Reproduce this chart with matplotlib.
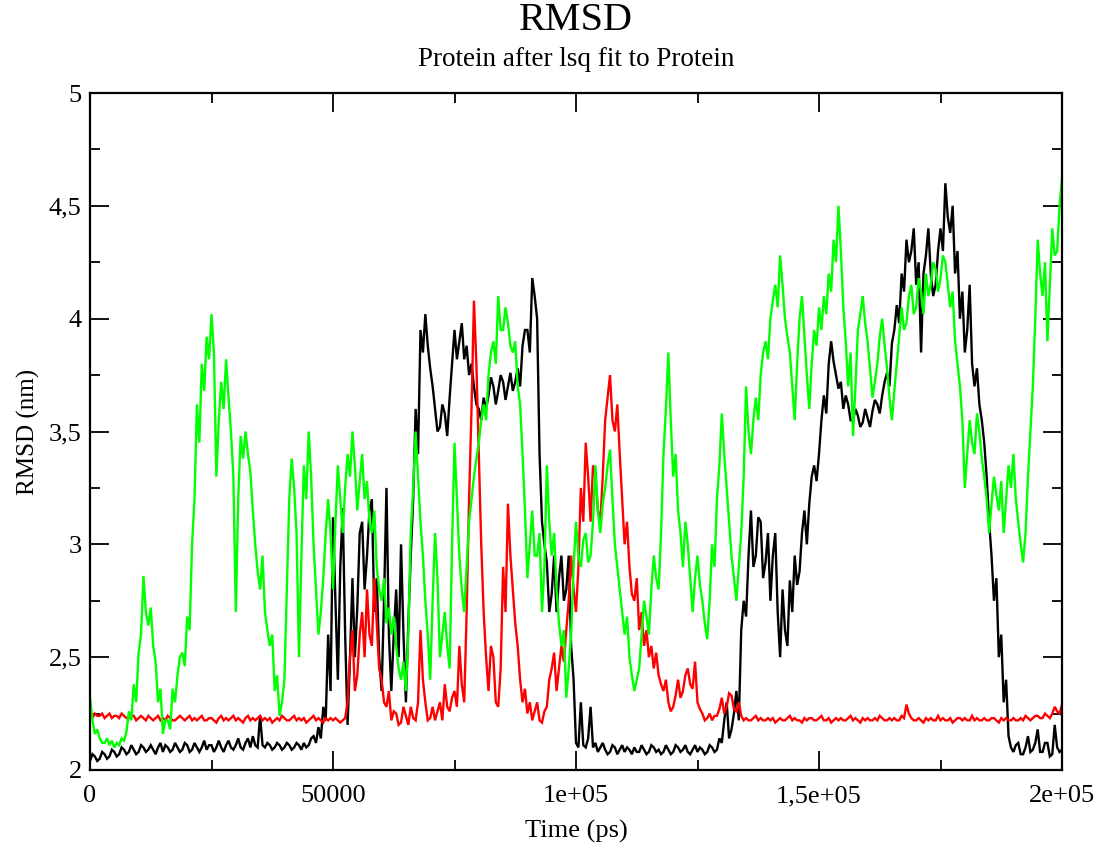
import numpy as np
import matplotlib
matplotlib.use("Agg")
import matplotlib.pyplot as plt
from matplotlib.ticker import FixedLocator, FixedFormatter, MultipleLocator

plt.rcParams['font.family'] = ['Liberation Serif', 'DejaVu Serif']

# ---- data (RMSD in nm, read every 500 ps) ----
time_ps = np.arange(401) * 500

rmsd_black = [
    2.04, 2.07, 2.06, 2.04, 2.05, 2.08, 2.07, 2.05, 2.06, 2.09,
    2.08, 2.06, 2.07, 2.10, 2.09, 2.07, 2.08, 2.11, 2.09, 2.07,
    2.08, 2.11, 2.10, 2.08, 2.09, 2.11, 2.09, 2.07, 2.10, 2.12,
    2.08, 2.11, 2.10, 2.08, 2.09, 2.12, 2.10, 2.08, 2.09, 2.12,
    2.11, 2.08, 2.09, 2.12, 2.10, 2.08, 2.10, 2.13, 2.09, 2.11,
    2.11, 2.08, 2.10, 2.13, 2.10, 2.08, 2.11, 2.13, 2.10, 2.09,
    2.11, 2.14, 2.10, 2.09, 2.12, 2.14, 2.10, 2.15, 2.11, 2.10,
    2.24, 2.11, 2.10, 2.12, 2.11, 2.09, 2.10, 2.12, 2.11, 2.09,
    2.10, 2.12, 2.11, 2.09, 2.10, 2.12, 2.11, 2.09, 2.12, 2.10,
    2.11, 2.14, 2.15, 2.12, 2.19, 2.14, 2.28, 2.22, 2.60, 2.35,
    3.12, 2.75, 2.40, 2.90, 3.16, 2.60, 2.20, 2.50, 2.85, 2.50,
    2.72, 3.05, 3.10, 2.80, 2.95, 3.15, 3.20, 2.70, 2.85, 2.50,
    2.35, 2.75, 3.25, 2.60, 2.35, 2.60, 2.80, 2.50, 3.00, 2.60,
    2.30, 2.65, 2.95, 3.20, 3.60, 3.40, 3.95, 3.85, 4.02, 3.88,
    3.78, 3.70, 3.60, 3.50, 3.52, 3.62, 3.58, 3.48, 3.65, 3.80,
    3.95, 3.82, 3.90, 3.98, 3.82, 3.88, 3.75, 3.80, 3.70, 3.62,
    3.60, 3.55, 3.65, 3.60, 3.66, 3.74, 3.70, 3.62, 3.68, 3.75,
    3.72, 3.64, 3.70, 3.76, 3.68, 3.72, 3.78, 3.70, 3.88, 3.95,
    3.95, 3.85, 4.18, 4.10, 4.00, 3.40, 3.10, 3.00, 2.92, 2.70,
    2.78, 2.95, 2.70, 2.85, 2.95, 2.75, 2.80, 2.95, 2.55, 2.40,
    2.12, 2.10, 2.30, 2.11, 2.10, 2.14, 2.28, 2.10, 2.12, 2.08,
    2.10, 2.12, 2.09, 2.07, 2.08, 2.11, 2.10, 2.07, 2.09, 2.11,
    2.08, 2.10, 2.09, 2.07, 2.10, 2.08, 2.08, 2.11, 2.09, 2.07,
    2.08, 2.11, 2.10, 2.08, 2.09, 2.07, 2.08, 2.11, 2.09, 2.07,
    2.08, 2.11, 2.10, 2.08, 2.09, 2.11, 2.08, 2.07, 2.09, 2.11,
    2.08, 2.10, 2.09, 2.07, 2.08, 2.11, 2.10, 2.08, 2.09, 2.14,
    2.12, 2.22, 2.30, 2.14, 2.18, 2.25, 2.35, 2.22, 2.62, 2.75,
    2.68, 2.95, 3.15, 2.90, 2.95, 3.12, 3.10, 2.85, 2.92, 3.05,
    2.75, 2.95, 3.05, 2.70, 2.50, 2.80, 2.62, 2.55, 2.84, 2.70,
    2.95, 2.82, 2.88, 3.05, 3.15, 3.00, 3.18, 3.30, 3.35, 3.28,
    3.40, 3.55, 3.66, 3.58, 3.80, 3.90, 3.81, 3.75, 3.69, 3.72,
    3.60, 3.66, 3.62, 3.55, 3.55, 3.60, 3.57, 3.52, 3.54, 3.60,
    3.56, 3.52, 3.59, 3.64, 3.62, 3.58, 3.66, 3.72, 3.76, 3.70,
    3.89, 3.95, 4.06, 3.98, 4.20, 4.12, 4.35, 4.25, 4.30, 4.40,
    4.15, 4.25, 3.85, 4.20, 4.28, 4.40, 4.20, 4.10, 4.15, 4.30,
    4.40, 4.30, 4.60, 4.45, 4.38, 4.50, 4.20, 4.30, 4.00, 4.12,
    3.85, 3.95, 4.15, 3.80, 3.70, 3.78, 3.62, 3.55, 3.45, 3.30,
    3.10, 2.95, 2.75, 2.85, 2.50, 2.60, 2.30, 2.40, 2.15, 2.10,
    2.08, 2.11, 2.12, 2.07, 2.07, 2.10, 2.15, 2.08, 2.09, 2.12,
    2.18, 2.08, 2.08, 2.12, 2.12, 2.06, 2.07, 2.20, 2.10, 2.08,
    2.09,
]

rmsd_red = [
    2.24, 2.23, 2.25, 2.24, 2.24, 2.25, 2.23, 2.24, 2.25, 2.23,
    2.24, 2.24, 2.23, 2.25, 2.24, 2.23, 2.23, 2.24, 2.24, 2.22,
    2.23, 2.24, 2.23, 2.22, 2.24, 2.23, 2.22, 2.23, 2.24, 2.22,
    2.23, 2.22, 2.24, 2.23, 2.22, 2.22, 2.23, 2.24, 2.23, 2.22,
    2.23, 2.24, 2.22, 2.23, 2.22, 2.23, 2.24, 2.22, 2.22, 2.23,
    2.23, 2.22, 2.21, 2.23, 2.24, 2.22, 2.23, 2.22, 2.23, 2.24,
    2.22, 2.23, 2.22, 2.21, 2.23, 2.24, 2.22, 2.23, 2.22, 2.23,
    2.24, 2.22, 2.23, 2.22, 2.23, 2.21, 2.22, 2.23, 2.22, 2.24,
    2.23, 2.22, 2.22, 2.23, 2.24, 2.22, 2.23, 2.22, 2.23, 2.21,
    2.22, 2.23, 2.24, 2.22, 2.23, 2.22, 2.21, 2.23, 2.22, 2.23,
    2.22, 2.23, 2.22, 2.21, 2.22, 2.23, 2.30, 2.50, 2.62, 2.35,
    2.42, 2.60, 2.70, 2.50, 2.80, 2.60, 2.55, 2.85, 2.65, 2.45,
    2.40, 2.30, 2.28, 2.35, 2.22, 2.26, 2.25, 2.20, 2.21, 2.28,
    2.24, 2.20, 2.28, 2.23, 2.22, 2.30, 2.62, 2.40, 2.30, 2.22,
    2.23, 2.28, 2.22, 2.26, 2.30, 2.22, 2.38, 2.28, 2.26, 2.32,
    2.35, 2.28, 2.55, 2.38, 2.30, 2.70, 3.20, 3.60, 4.08, 3.80,
    3.40, 3.00, 2.70, 2.50, 2.35, 2.55, 2.50, 2.30, 2.28, 2.45,
    2.90, 2.70, 3.18, 2.95, 2.80, 2.65, 2.55, 2.40, 2.30, 2.36,
    2.25, 2.30, 2.22, 2.26, 2.30, 2.22, 2.21, 2.26, 2.28, 2.40,
    2.45, 2.52, 2.35, 2.45, 2.55, 2.48, 2.62, 2.75, 2.95, 2.80,
    2.70, 2.90, 3.25, 3.10, 3.45, 3.30, 3.10, 3.35, 3.30, 3.15,
    3.10, 3.30, 3.55, 3.65, 3.75, 3.55, 3.50, 3.62, 3.40, 3.20,
    3.00, 3.10, 2.90, 2.78, 2.75, 2.85, 2.62, 2.70, 2.55, 2.62,
    2.50, 2.55, 2.45, 2.52, 2.42, 2.38, 2.35, 2.40, 2.30, 2.26,
    2.28, 2.33, 2.40, 2.32, 2.35, 2.42, 2.45, 2.38, 2.36, 2.48,
    2.30, 2.27, 2.25, 2.22, 2.23, 2.25, 2.22, 2.24, 2.24, 2.27,
    2.32, 2.25, 2.28, 2.34, 2.33, 2.27, 2.26, 2.30, 2.24, 2.22,
    2.23, 2.22, 2.22, 2.23, 2.24, 2.22, 2.23, 2.22, 2.22, 2.23,
    2.22, 2.23, 2.21, 2.22, 2.23, 2.22, 2.22, 2.23, 2.24, 2.22,
    2.23, 2.22, 2.22, 2.21, 2.23, 2.22, 2.23, 2.23, 2.22, 2.22,
    2.23, 2.24, 2.22, 2.22, 2.23, 2.21, 2.22, 2.23, 2.22, 2.23,
    2.22, 2.22, 2.23, 2.24, 2.22, 2.23, 2.22, 2.21, 2.23, 2.22,
    2.23, 2.22, 2.22, 2.23, 2.22, 2.24, 2.23, 2.22, 2.22, 2.23,
    2.22, 2.23, 2.22, 2.22, 2.24, 2.23, 2.29, 2.25, 2.23, 2.22,
    2.22, 2.23, 2.22, 2.21, 2.23, 2.22, 2.23, 2.22, 2.22, 2.24,
    2.22, 2.23, 2.22, 2.22, 2.23, 2.21, 2.22, 2.23, 2.23, 2.22,
    2.23, 2.22, 2.22, 2.24, 2.22, 2.23, 2.22, 2.22, 2.23, 2.22,
    2.22, 2.23, 2.23, 2.22, 2.21, 2.23, 2.22, 2.23, 2.22, 2.22,
    2.23, 2.22, 2.22, 2.23, 2.22, 2.24, 2.23, 2.22, 2.23, 2.24,
    2.24, 2.23, 2.23, 2.25, 2.24, 2.23, 2.25, 2.28, 2.26, 2.25,
    2.29,
]

rmsd_green = [
    2.32, 2.22, 2.16, 2.18, 2.14, 2.12, 2.12, 2.14, 2.11, 2.13,
    2.10, 2.12, 2.11, 2.14, 2.13, 2.17, 2.26, 2.22, 2.38, 2.30,
    2.52, 2.60, 2.86, 2.70, 2.64, 2.72, 2.55, 2.48, 2.30, 2.36,
    2.16, 2.22, 2.22, 2.18, 2.36, 2.30, 2.42, 2.50, 2.52, 2.46,
    2.68, 2.62, 3.00, 3.20, 3.62, 3.45, 3.80, 3.68, 3.92, 3.82,
    4.02, 3.85, 3.30, 3.55, 3.72, 3.60, 3.82, 3.65, 3.50, 3.30,
    2.70, 3.20, 3.48, 3.38, 3.50, 3.40, 3.32, 3.15, 3.00, 2.88,
    2.80, 2.95, 2.70, 2.62, 2.55, 2.60, 2.35, 2.42, 2.24, 2.30,
    2.40, 2.80, 3.20, 3.38, 3.25, 3.05, 2.50, 2.95, 3.35, 3.20,
    3.50, 3.30, 3.00, 2.80, 2.60, 2.70, 2.85, 3.05, 3.20, 3.05,
    2.80, 3.10, 3.35, 3.20, 3.05, 3.25, 3.40, 3.30, 3.50, 3.35,
    3.15, 3.28, 3.40, 3.20, 3.28, 3.10, 3.05, 3.15, 2.90, 2.80,
    2.75, 2.85, 2.65, 2.72, 2.60, 2.68, 2.55, 2.45, 2.40, 2.48,
    2.35, 2.60, 3.05, 3.25, 3.50, 3.30, 3.10, 2.95, 2.75, 2.60,
    2.40, 2.75, 3.05, 2.85, 2.50, 2.60, 2.70, 2.55, 2.45, 3.00,
    3.45, 3.20, 2.95, 2.80, 2.70, 2.90, 3.10, 3.20, 3.30, 3.38,
    3.45, 3.55, 3.62, 3.55, 3.75, 3.85, 3.90, 3.80, 4.10, 3.95,
    3.95, 4.05, 3.98, 3.88, 3.85, 3.90, 3.70, 3.62, 3.40, 3.15,
    2.85, 3.00, 3.15, 2.95, 2.95, 3.05, 2.70, 2.90, 3.35, 3.10,
    2.95, 3.05, 2.80, 2.65, 2.55, 2.62, 2.32, 2.45, 2.60, 2.90,
    3.10, 2.95, 2.90, 3.02, 3.05, 2.92, 2.95, 3.10, 3.35, 3.15,
    3.05, 3.18, 3.25, 3.35, 3.42, 3.20, 3.00, 2.90, 2.80, 2.70,
    2.60, 2.68, 2.50, 2.42, 2.35, 2.40, 2.45, 2.60, 2.75, 2.68,
    2.60, 2.80, 2.95, 2.85, 2.80, 3.05, 3.40, 3.60, 3.85, 3.55,
    3.30, 3.40, 3.15, 3.05, 2.90, 3.10, 3.00, 2.85, 2.70, 2.85,
    2.95, 2.82, 2.75, 2.65, 2.58, 2.75, 3.00, 2.90, 3.20, 3.35,
    3.58, 3.40, 3.25, 3.10, 2.95, 2.85, 2.75, 2.90, 3.05, 3.30,
    3.70, 3.50, 3.40, 3.55, 3.65, 3.55, 3.75, 3.85, 3.90, 3.82,
    4.00, 4.08, 4.15, 4.05, 4.28, 4.15, 4.00, 3.92, 3.85, 3.70,
    3.55, 3.80, 4.00, 4.10, 3.92, 3.75, 3.60, 3.80, 3.95, 3.88,
    4.05, 3.95, 4.10, 4.02, 4.20, 4.12, 4.35, 4.25, 4.50, 4.30,
    4.05, 3.90, 3.70, 3.85, 3.48, 3.70, 3.95, 4.02, 4.10, 3.98,
    3.90, 3.78, 3.65, 3.72, 3.80, 3.92, 4.00, 3.88, 3.78, 3.65,
    3.55, 3.68, 3.80, 3.92, 4.05, 3.95, 3.98, 4.10, 4.15, 4.02,
    4.05, 4.18, 4.12, 4.02, 4.20, 4.10, 4.15, 4.25, 4.22, 4.12,
    4.18, 4.28, 4.25, 4.15, 4.05, 4.12, 3.90, 3.80, 3.70, 3.55,
    3.25, 3.40, 3.55, 3.45, 3.40, 3.58, 3.50, 3.38, 3.30, 3.20,
    3.05, 3.18, 3.30, 3.22, 3.15, 3.28, 3.05, 3.20, 3.35, 3.25,
    3.40, 3.20, 3.10, 3.00, 2.92, 3.05, 3.30, 3.50, 3.70, 4.00,
    4.35, 4.20, 4.10, 4.25, 3.90, 4.15, 4.40, 4.28, 4.30, 4.50,
    4.62,
]

series_data = [rmsd_black, rmsd_red, rmsd_green]
series_colors = ["#000000", "#ff0000", "#00ff00"]

x_ticks = [0, 50000, 100000, 150000, 200000]
x_labels = ["0", "50000", "1e+05", "1,5e+05", "2e+05"]
y_ticks = [2, 2.5, 3, 3.5, 4, 4.5, 5]
y_labels = ["2", "2,5", "3", "3,5", "4", "4,5", "5"]

title = "RMSD"
subtitle = "Protein after lsq fit to Protein"
xlabel = "Time (ps)"
ylabel = "RMSD (nm)"

# ---- figure ----
W, H = 1105, 849
fig = plt.figure(figsize=(W / 100, H / 100), dpi=100)
ax = fig.add_axes([90 / W, 1 - 770 / H, (1062 - 90) / W, (770 - 93) / H])

for ys, c in zip(series_data, series_colors):
    ax.plot(time_ps, ys, color=c, lw=1.7, solid_joinstyle='miter')

ax.set_xlim(0, 200000)
ax.set_ylim(2, 5)

ax.xaxis.set_major_locator(FixedLocator(x_ticks))
ax.xaxis.set_major_formatter(FixedFormatter(x_labels))
ax.xaxis.set_minor_locator(MultipleLocator(25000))
ax.yaxis.set_major_locator(FixedLocator(y_ticks))
ax.yaxis.set_major_formatter(FixedFormatter(y_labels))
ax.yaxis.set_minor_locator(MultipleLocator(0.25))

ax.tick_params(which='both', direction='in', top=True, right=True, width=1.3, colors='black')
ax.tick_params(which='major', length=14)
ax.tick_params(which='minor', length=7)
ax.tick_params(axis='x', which='major', labelsize=19, pad=11)
ax.tick_params(axis='y', which='major', labelsize=19, pad=6)
for s in ax.spines.values():
    s.set_linewidth(1.6)

ax.set_xlabel(xlabel, fontsize=19, labelpad=9)
ax.set_ylabel(ylabel, fontsize=18, labelpad=6)

fig.text(576 / W, 1 - 20 / H, title, ha='center', va='center', fontsize=29)
fig.text(576 / W, 1 - 60 / H, subtitle, ha='center', va='center', fontsize=19.5)

fig.savefig("out.png", dpi=100)
